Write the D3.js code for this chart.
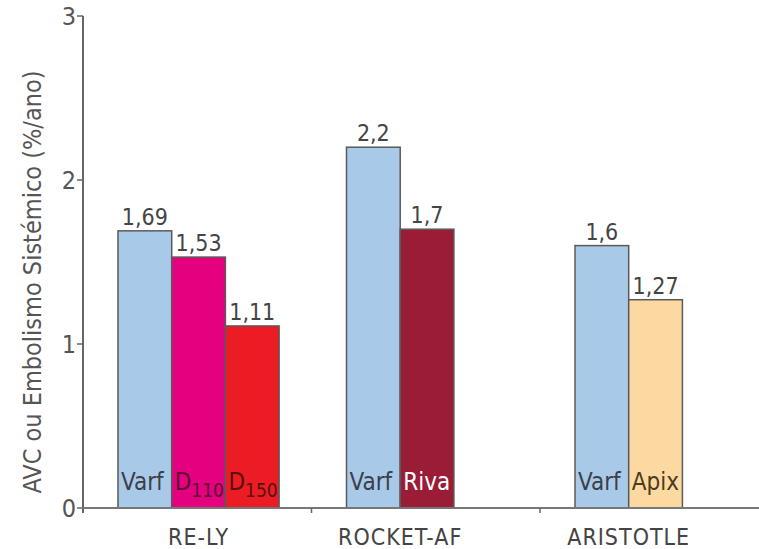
<!DOCTYPE html>
<html lang="pt">
<head>
<meta charset="UTF-8">
<title>AVC ou Embolismo Sistémico</title>
<script src="https://cdn.jsdelivr.net/npm/d3@7"></script>
<style>
  body { margin: 0; background: #fff; }
  svg text { font-family: "DejaVu Sans Condensed", "Liberation Sans Narrow", "Liberation Sans", sans-serif; }
</style>
</head>
<body>
<svg width="759" height="549"></svg>
<script>
const groups = ["RE-LY", "ROCKET-AF", "ARISTOTLE"];
const drugs = [
  ["Varf", "D110", "D150"],
  ["Varf", "Riva"],
  ["Varf", "Apix"]
];
const values = [
  [1.69, 1.53, 1.11],
  [2.2, 1.7],
  [1.6, 1.27]
];
const valueLabels = [
  ["1,69", "1,53", "1,11"],
  ["2,2", "1,7"],
  ["1,6", "1,27"]
];
const yTicks = [0, 1, 2, 3];

const colors = { Varf: "#a9c9e9", D110: "#e4007e", D150: "#ec1c24", Riva: "#9a1c36", Apix: "#fdd9a2" };
const textColors = { Varf: "#3a3f48", D110: "#5a1030", D150: "#5a1010", Riva: "#ffffff", Apix: "#4a3a20" };

const svg = d3.select("svg");
const x0 = 83, y0 = 508;

const x = d3.scaleBand().domain(groups).range([x0, x0 + 3 * 228.5]).padding(0);
const xi = d3.scaleBand().domain([0, 1, 2]).range([35, 35 + 3 * 53.7]).padding(0);
const y = d3.scaleLinear().domain([0, 3]).range([y0, 16]);

// y axis
const ya = svg.append("g");
ya.append("line").attr("x1", x0).attr("x2", x0).attr("y1", y(3)).attr("y2", y0 + 5)
  .attr("stroke", "#666").attr("stroke-width", 2);
ya.selectAll("line.t").data(yTicks).join("line").attr("class", "t")
  .attr("x1", x0 - 6).attr("x2", x0).attr("y1", d => y(d)).attr("y2", d => y(d))
  .attr("stroke", "#666").attr("stroke-width", 1.5);
ya.selectAll("text").data(yTicks).join("text")
  .attr("x", x0 - 7).attr("y", d => y(d) + 9).attr("text-anchor", "end")
  .attr("font-size", 25).attr("fill", "#555").text(d => d);

svg.append("text")
  .attr("transform", `translate(41,282) rotate(-90)`)
  .attr("text-anchor", "middle").attr("font-size", 25).attr("fill", "#555")
  .text("AVC ou Embolismo Sistémico (%/ano)");

// bars
groups.forEach((g, gi) => {
  const gx = x(g);
  const gg = svg.append("g");
  const data = values[gi].map((v, i) => ({ v, i, drug: drugs[gi][i], lab: valueLabels[gi][i] }));
  gg.selectAll("rect").data(data).join("rect")
    .attr("x", d => gx + xi(d.i)).attr("y", d => y(d.v))
    .attr("width", xi.bandwidth()).attr("height", d => y0 - y(d.v))
    .attr("fill", d => colors[d.drug]).attr("stroke", "#5a5a5a").attr("stroke-width", 1.5);
  gg.selectAll("text.val").data(data).join("text").attr("class", "val")
    .attr("x", d => gx + xi(d.i) + xi.bandwidth() / 2).attr("y", d => y(d.v) - 6)
    .attr("text-anchor", "middle").attr("font-size", 23).attr("fill", "#444").text(d => d.lab);
  gg.selectAll("text.drug").data(data).join("text").attr("class", "drug")
    .attr("x", d => gx + xi(d.i) + 3).attr("y", y0 - 18)
    .attr("font-size", 24).attr("fill", d => textColors[d.drug])
    .each(function (d) {
      const t = d3.select(this);
      const m = d.drug.match(/^D(\d+)$/);
      if (m) {
        t.append("tspan").text("D");
        t.append("tspan").attr("dy", 7).attr("font-size", 19).text(m[1]);
      } else {
        t.text(d.drug);
      }
    });
  const n = values[gi].length;
  svg.append("text")
    .attr("x", gx + xi(0) + n * xi.bandwidth() / 2).attr("y", y0 + 37)
    .attr("text-anchor", "middle").attr("font-size", 23).attr("fill", "#444")
    .attr("letter-spacing", 1).text(g);
});

// x axis
svg.append("line").attr("x1", x0).attr("x2", 759).attr("y1", y0).attr("y2", y0)
  .attr("stroke", "#777").attr("stroke-width", 2);
svg.selectAll("line.xt").data(groups.slice(1)).join("line").attr("class", "xt")
  .attr("x1", d => x(d)).attr("x2", d => x(d)).attr("y1", y0).attr("y2", y0 + 5)
  .attr("stroke", "#666").attr("stroke-width", 1.5);
</script>
</body>
</html>
